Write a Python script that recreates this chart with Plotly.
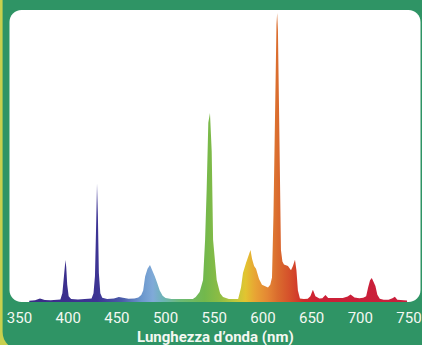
import plotly.graph_objects as go

# Emission spectrum of a triphosphor fluorescent lamp (relative intensity, max = 100)
wavelength = [
    360, 366, 371, 376, 382, 388, 392, 394, 395.5, 396.5, 397.2, 398, 399, 400.5, 403,
    410, 418, 424, 426, 427.5, 428.8, 429.6, 430.5, 431.5, 433, 435, 440, 447, 452, 456,
    462, 468, 472, 475, 477, 479, 481.5, 484, 486.5, 489, 491.5, 494, 497, 500, 506,
    514, 522, 528, 531, 535, 538.5, 540.6, 542.2, 543.9, 545.6, 547.4, 548.8, 552.5,
    556, 559, 565, 571, 574.5, 577.5, 579.5, 582.6, 584.7, 587.2, 588.8, 590.9, 592.9,
    596, 599, 602, 605.2, 607.5, 609.3, 610.8, 611.8, 612.8, 613.9, 614.6, 615.4,
    616.4, 617.5, 618.5, 620, 621.6, 625.7, 628.8, 630.8, 632.9, 634.4, 635.9, 638,
    642, 646, 648.7, 651.3, 653.9, 658, 661, 664.2, 667, 670, 676, 682, 687, 690, 694,
    699, 703, 706, 708, 710, 711.8, 713.5, 715.5, 717.5, 720, 724, 729, 733, 735.5,
    738, 743, 748,
]
intensity = [
    0.4, 0.6, 1.2, 0.7, 0.6, 0.7, 0.9, 3.0, 8.0, 13.0, 14.5, 12.0, 6.0, 2.0, 1.0,
    0.9, 1.0, 1.2, 3.0, 9.0, 28.0, 41.0, 30.0, 10.0, 3.0, 1.5, 1.0, 1.2, 1.7, 1.5,
    1.1, 1.2, 1.6, 2.4, 4.0, 8.8, 11.5, 12.8, 11.0, 8.8, 6.5, 4.0, 2.2, 1.4, 1.0,
    1.0, 0.9, 1.0, 1.7, 3.5, 7.6, 21.5, 38.8, 62.0, 65.4, 52.0, 21.5, 7.6,
    3.0, 1.7, 1.0, 0.9, 1.0, 5.0, 10.0, 13.5, 15.5, 18.0, 15.0, 12.5, 11.5,
    8.0, 6.0, 5.5, 5.0, 6.0, 8.5, 30.0, 55.0, 80.0, 96.0, 100.0, 94.0,
    70.0, 35.0, 18.0, 14.0, 13.0, 12.5, 11.0, 12.5, 14.6, 11.0, 4.0, 1.2,
    1.0, 1.1, 2.0, 4.2, 2.0, 1.2, 1.3, 2.4, 1.4, 1.4, 1.5, 1.4, 1.9, 2.6, 1.6,
    1.3, 1.5, 2.0, 5.0, 7.5, 8.3, 7.0, 5.5, 2.5, 1.1, 0.8, 0.8, 1.3, 1.8,
    0.8, 0.6, 0.5,
]

tick_values = [350, 400, 450, 500, 550, 600, 650, 700, 750]
tick_labels = ["350", "400", "450", "500", "550", "600", "650", "700", "750"]
axis_title = "Lunghezza d’onda (nm)"

# Visible-spectrum colours keyed by wavelength (nm)
spectrum_nm = [360, 430, 455, 475, 487, 498, 515, 540, 555, 572, 582, 592, 605, 615, 630, 642, 660, 750]
spectrum_col = [
    "#3a2a86", "#3d3494", "#4a5aa8", "#6a96cc", "#80aad8", "#6cb4b4", "#6cba74",
    "#72b84c", "#8cbc44", "#c0c83c", "#e2c430", "#e8a434", "#e48634", "#da6c2e",
    "#d44a2a", "#d02a2c", "#cc2036", "#c81e3c",
]

W, H = 422, 345
MB = 43                     # bottom margin holding tick labels and title
PLOT_H = H - MB
GREEN = "#2f9465"
YELLOW = "#c8d04e"

lo, hi = spectrum_nm[0], spectrum_nm[-1]
colorscale = [[(w - lo) / (hi - lo), c] for w, c in zip(spectrum_nm, spectrum_col)]


def to_paper(x, y):
    return x / W, (PLOT_H - y) / PLOT_H


def rounded_rect(x0, y0, x1, y1, r_tl, r_tr, r_br, r_bl):
    """SVG path (paper coords) of a rectangle given in pixels with rounded corners."""
    k = 0.5523

    def p(x, y):
        a, b = to_paper(x, y)
        return f"{a:.5f},{b:.5f}"

    d = [f"M{p(x0 + r_tl, y0)}", f"L{p(x1 - r_tr, y0)}"]
    d.append(f"C{p(x1 - r_tr + k * r_tr, y0)} {p(x1, y0 + r_tr - k * r_tr)} {p(x1, y0 + r_tr)}")
    d.append(f"L{p(x1, y1 - r_br)}")
    d.append(f"C{p(x1, y1 - r_br + k * r_br)} {p(x1 - r_br + k * r_br, y1)} {p(x1 - r_br, y1)}")
    d.append(f"L{p(x0 + r_bl, y1)}")
    d.append(f"C{p(x0 + r_bl - k * r_bl, y1)} {p(x0, y1 - r_bl + k * r_bl)} {p(x0, y1 - r_bl)}")
    d.append(f"L{p(x0, y0 + r_tl)}")
    d.append(f"C{p(x0, y0 + r_tl - k * r_tl)} {p(x0 + r_tl - k * r_tl, y0)} {p(x0 + r_tl, y0)}")
    d.append("Z")
    return " ".join(d)


fig = go.Figure()
fig.add_trace(go.Scatter(
    x=wavelength,
    y=intensity,
    mode="lines",
    line=dict(width=0, shape="linear"),
    fill="tozeroy",
    fillgradient=dict(type="horizontal", colorscale=colorscale, start=lo, stop=hi),
    hoverinfo="skip",
    showlegend=False,
))

fig.update_layout(
    width=W,
    height=H,
    margin=dict(l=0, r=0, t=0, b=MB, pad=0),
    paper_bgcolor=YELLOW,
    plot_bgcolor="rgba(0,0,0,0)",
    shapes=[
        dict(type="path", xref="paper", yref="paper", layer="below",
             path=rounded_rect(2.6, -10, 440, 350, 0, 0, 0, 18),
             fillcolor=GREEN, line=dict(width=0)),
        dict(type="path", xref="paper", yref="paper", layer="below",
             path=rounded_rect(9.5, 10, 420.5, 302, 12, 12, 12, 12),
             fillcolor="white", line=dict(width=0)),
    ],
    xaxis=dict(
        range=[329.97, 763.35],
        tickvals=tick_values,
        ticktext=tick_labels,
        ticks="",
        ticklabelstandoff=5,
        showgrid=False,
        zeroline=False,
        showline=False,
        tickfont=dict(family="Roboto, sans-serif", size=15, color="#f4f8f2"),
        fixedrange=True,
    ),
    yaxis=dict(
        range=[0, 104.5],
        visible=False,
        showgrid=False,
        zeroline=False,
        fixedrange=True,
    ),
    annotations=[
        dict(text=f"<b>{axis_title}</b>", xref="paper", yref="paper",
             x=215 / W, y=(PLOT_H - 337) / PLOT_H, xanchor="center", yanchor="middle",
             showarrow=False,
             font=dict(family="Liberation Sans Narrow, Roboto, sans-serif", size=15, color="#f4f8f2")),
    ],
)

fig.write_html("out.html")
